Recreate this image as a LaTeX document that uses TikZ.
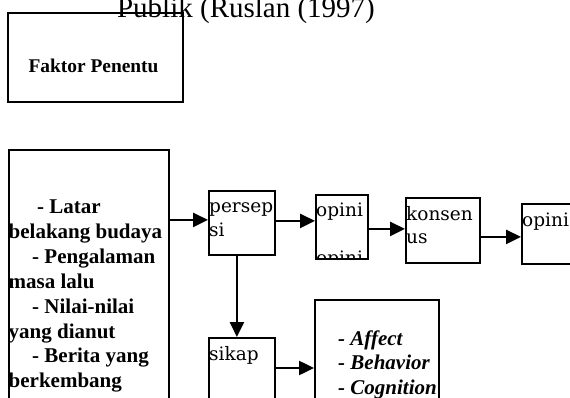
\documentclass[tikz,border=0pt]{standalone}
\usepackage{fontspec}
\setmainfont{Liberation Serif}
\newfontfamily\dvs{DejaVu Serif}
\usetikzlibrary{arrows.meta,calc}
\begin{document}
\begin{tikzpicture}[x=1pt,y=-1pt,
  box/.style={draw,line width=1.8pt,inner sep=0pt,anchor=north west},
  arr/.style={line width=2.5pt,-{Triangle[length=15pt,width=14pt]}},
  lbl/.style={inner sep=0pt,anchor=base west,font=\dvs\fontsize{18.5}{22}\selectfont},
  bl/.style={inner sep=0pt,anchor=base west,font=\bfseries\fontsize{21}{25}\selectfont},
  bil/.style={inner sep=0pt,anchor=base west,font=\bfseries\itshape\fontsize{21}{25}\selectfont}]
\useasboundingbox (0,0) rectangle (570,398);
\clip (0,0) rectangle (570,398);
% title
\node[anchor=base,inner sep=0pt,font=\fontsize{29}{34}\selectfont] (title) at (246,18) {Publik (Ruslan (1997)};
% boxes
\node[box,minimum width=175pt,minimum height=89pt] (fp) at (7,12) {};
\node[box,minimum width=160pt,minimum height=300pt] (lb) at (8,149) {};
\node[box,minimum width=66pt,minimum height=64pt] (pp) at (208,190) {};
\node[box,minimum width=52pt,minimum height=64pt] (op1) at (315,194) {};
\node[box,minimum width=74pt,minimum height=65pt] (ks) at (405,197) {};
\node[box,minimum width=80pt,minimum height=60pt] (op2) at (521,203) {};
\node[box,minimum width=66pt,minimum height=100pt] (sk) at (208,337) {};
\node[box,minimum width=124pt,minimum height=140pt] (af) at (314,299) {};
% texts
\node[anchor=base,inner sep=0pt,font=\bfseries\fontsize{19.4}{23}\selectfont] (fpt) at (93.5,73) {Faktor Penentu};
\node[bl] (l1) at (37,214) {- Latar};
\node[bl] (l2) at (8.5,238.8) {belakang budaya};
\node[bl] (l3) at (32,263.6) {- Pengalaman};
\node[bl] (l4) at (8.5,288.4) {masa lalu};
\node[bl] (l5) at (32,313.2) {- Nilai-nilai};
\node[bl] (l6) at (8.5,338) {yang dianut};
\node[bl] (l7) at (32,362.8) {- Berita yang};
\node[bl] (l8) at (8.5,387.6) {berkembang};
\node[lbl] (ppa) at (209,213) {persep};
\node[lbl] (ppb) at (209,236.5) {si};
\node[lbl] (op1a) at (316,217) {opini};
\begin{scope}
\clip (315,194) rectangle (367,258);
\node[lbl] (op1b) at (316,264.5) {opini};
\end{scope}
\node[lbl] (ksa) at (406,220) {konsen};
\node[lbl] (ksb) at (406,243.5) {us};
\node[lbl] (op2a) at (522,226) {opini};
\node[lbl] (ska) at (209,360) {sikap};
\node[bil] (af1) at (338,345) {- Affect};
\node[bil] (af2) at (338,369.5) {- Behavior};
\node[bil] (af3) at (338,394) {- Cognition};
% arrows
\draw[arr] ($(lb.east|-pp.west)+(0,-3)$) -- ($(pp.west)+(0,-3)$);
\draw[arr] ($(pp.east)+(0,-2)$) -- ($(op1.west|-pp.east)+(0,-2)$);
\draw[arr] ($(op1.east)+(0,2)$) -- ($(ks.west|-op1.east)+(0,2)$);
\draw[arr] ($(ks.east|-op2.west)+(0,3)$) -- ($(op2.west)+(0,3)$);
\draw[arr] ($(pp.south)+(-5,0)$) -- ($(sk.north)+(-5,0)$);
\draw[arr] ($(sk.north east)+(0,31)$) -- ($(af.west|-sk.north east)+(0,31)$);
\end{tikzpicture}
\end{document}
